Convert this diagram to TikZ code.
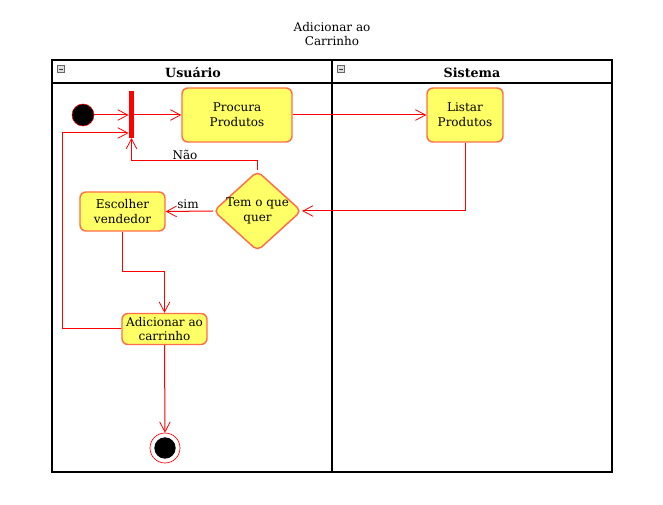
\documentclass[tikz,border=0pt]{standalone}
\usepackage{fontspec}
\setmainfont{DejaVu Serif}
\usetikzlibrary{arrows.meta,shapes.geometric,calc}
\definecolor{actfill}{RGB}{255,255,102}
\definecolor{actdraw}{RGB}{255,110,70}
\definecolor{lnred}{RGB}{255,0,0}
\begin{document}
\begin{tikzpicture}[x=0.75pt,y=-0.75pt,
  every node/.style={font=\fontsize{9}{11}\selectfont},
  activity/.style={rectangle,rounded corners=4.5pt,draw=actdraw,line width=1.1pt,fill=actfill,align=center,inner sep=0pt},
  decision/.style={diamond,rounded corners=4pt,draw=actdraw,line width=1.1pt,fill=actfill,inner sep=0pt,minimum width=66pt,minimum height=60pt},
  arr/.style={draw=lnred,line width=0.75pt,-{Straight Barb[length=7.5pt,width=8pt,line width=0.6pt]}},
  ln/.style={draw=lnred,line width=0.75pt},
  lane/.style={draw=black,line width=0.8pt},
  minus/.style={draw=gray!80!black,fill=gray!25,minimum size=5.5pt,inner sep=0pt,line width=0.5pt},
  lbl/.style={inner sep=1pt}]
\useasboundingbox (0,0) rectangle (663,505);
% title
\node[align=center] (title) at (332,34) {Adicionar ao\\Carrinho};
% swimlanes
\draw[lane] (52,60) rectangle (612,472);
\draw[lane] (52,83) -- (612,83);
\draw[lane] (332,60) -- (332,472);
\node[font=\fontsize{9.5}{11}\selectfont\bfseries] (hu) at (193,73) {Usuário};
\node[font=\fontsize{9.5}{11}\selectfont\bfseries] (hs) at (472,73) {Sistema};
\node[minus] (m1) at (61,69) {};
\draw[line width=0.6pt,gray!40!black] ($(m1)+(-2,0)$) -- ($(m1)+(2,0)$);
\node[minus] (m2) at (341,69) {};
\draw[line width=0.6pt,gray!40!black] ($(m2)+(-2,0)$) -- ($(m2)+(2,0)$);
% nodes
\node[circle,fill=black,draw=lnred,line width=0.4pt,minimum size=16.5pt,inner sep=0pt] (init) at (83,115) {};
\node[rectangle,fill=lnred,inner sep=0pt,minimum width=4pt,minimum height=35pt] (bar) at (131.5,114.5) {};
\node[activity,minimum width=82.5pt,minimum height=40.5pt] (proc) at (237,115) {Procura\\Produtos};
\node[activity,minimum width=57pt,minimum height=40.5pt] (list) at (465,115) {Listar\\Produtos};
\node[decision] (dec) at (257.5,211) {};
\node[align=center] (dect) at (257.5,211) {Tem o que\\quer};
\node[activity,minimum width=63.75pt,minimum height=29.25pt] (esc) at (122.5,211.5) {Escolher\\vendedor};
\node[activity,minimum width=63.75pt,minimum height=23.25pt] (add) at (164.5,329) {Adicionar ao\\carrinho};
\node[circle,draw=lnred,fill=white,line width=0.5pt,minimum size=22.5pt,inner sep=0pt] (fin) at (165,448) {};
\node[circle,fill=black,minimum size=16pt,inner sep=0pt] (finin) at (fin) {};
% connectors
\draw[arr] (init) -- (init -| bar.west);
\draw[arr] (bar.east |- proc) -- (proc);
\draw[arr] (proc) -- (list);
\draw[arr] (list.south) |- (dec.east);
\coordinate (naoY) at (0,161);
\draw[arr] (dec.north) |- (bar.south |- naoY) -- (bar.south);
\node[lbl] (nao) at (185,155) {Não};
\draw[arr] (dec.west) -- (esc.east);
\node[lbl] (sim) at (188,204) {sim};
\draw[arr] (esc.south) -- ++(0,40) -| (add.north);
\coordinate (loopL) at (62,133);
\draw[arr] (add.west) -| (loopL) -- (loopL -| bar.west);
\draw[arr] (add.south) -- (fin.north);
\end{tikzpicture}
\end{document}
